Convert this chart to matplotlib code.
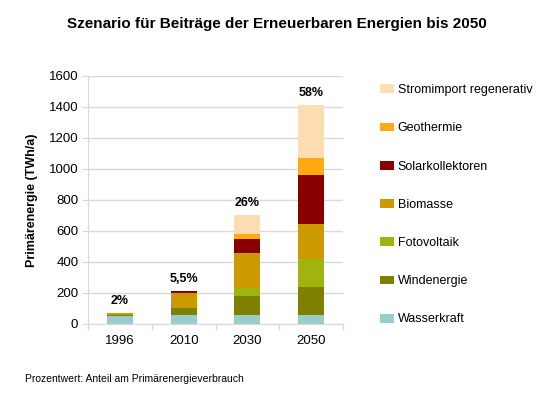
import matplotlib
matplotlib.use("Agg")
import matplotlib.pyplot as plt
from matplotlib.patches import Patch
import numpy as np

plt.rcParams['font.family'] = ['Liberation Sans', 'DejaVu Sans']

years = ["1996", "2010", "2030", "2050"]
series = ["Wasserkraft", "Windenergie", "Fotovoltaik", "Biomasse",
          "Solarkollektoren", "Geothermie", "Stromimport regenerativ"]
wasserkraft = [54, 58, 58, 58]
windenergie = [3, 45, 123, 181]
fotovoltaik = [0, 0, 52, 178]
biomasse = [13, 97, 226, 228]
solarkollektoren = [1, 13, 90, 316]
geothermie = [0, 0, 32, 110]
stromimport = [0, 0, 123, 342]
percent_labels = ["2%", "5,5%", "26%", "58%"]
colors = ["#99CCCC", "#808000", "#9FB40F", "#CC9900",
          "#880000", "#FFAA11", "#FFDDB3"]

data = [wasserkraft, windenergie, fotovoltaik, biomasse,
        solarkollektoren, geothermie, stromimport]

fig = plt.figure(figsize=(5.54, 3.95), dpi=100)
ax = fig.add_axes([0.159, 0.180, 0.460, 0.628])

x = np.arange(len(years))
bottom = np.zeros(len(years))
for vals, col, name in zip(data, colors, series):
    ax.bar(x, vals, width=0.41, bottom=bottom, color=col, label=name, zorder=3)
    bottom += np.array(vals)

for xi, tot, lab in zip(x, bottom, percent_labels):
    ax.annotate(lab, (xi, tot), xytext=(0, 4), textcoords='offset points',
                ha='center', va='bottom', fontsize=9, fontweight='bold')

ax.set_xlim(-0.5, len(years) - 0.5)
ax.set_ylim(0, 1600)
ax.set_yticks(np.arange(0, 1601, 200))
ax.set_xticks(x)
ax.set_xticklabels(years, fontsize=9.5)
ax.set_xticks(np.arange(-0.5, len(years)), minor=True)
ax.tick_params(axis='x', which='major', length=0, pad=8)
ax.tick_params(axis='x', which='minor', length=4, color='#d9d9d9', width=1)
ax.tick_params(axis='y', labelsize=9.5, length=4, color='#d9d9d9', pad=3)
ax.yaxis.grid(True, color='#d9d9d9', linewidth=1, zorder=0)
for s in ['top', 'right']:
    ax.spines[s].set_visible(False)
ax.spines['left'].set_color('#d9d9d9')
ax.spines['bottom'].set_color('#d9d9d9')
ax.set_ylabel("Primärenergie (TWh/a)", fontsize=9, fontweight='bold', labelpad=8)

fig.text(0.5, 0.94, "Szenario für Beiträge der Erneuerbaren Energien bis 2050",
         ha='center', va='center', fontsize=11, fontweight='bold')
fig.text(0.045, 0.04, "Prozentwert: Anteil am Primärenergieverbrauch",
         ha='left', va='center', fontsize=7.5)

handles = [Patch(facecolor=c, edgecolor='none') for c in colors[::-1]]
leg = fig.legend(handles, series[::-1], loc='upper left',
                 bbox_to_anchor=(0.677, 0.80), frameon=False, fontsize=9,
                 labelspacing=2.1, handlelength=1.1, handleheight=0.7,
                 handletextpad=0.3, borderaxespad=0)

fig.savefig("out.png", dpi=100)
